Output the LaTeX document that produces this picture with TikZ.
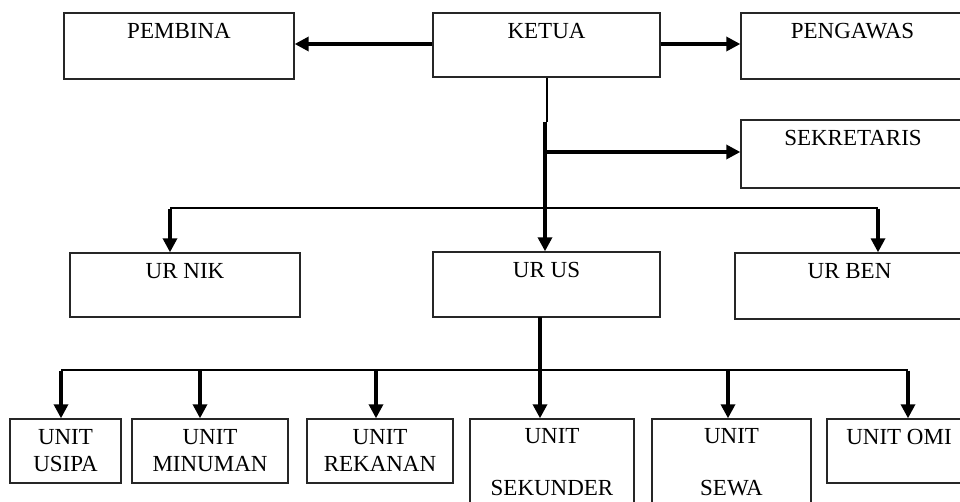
\documentclass[tikz,border=0pt]{standalone}
\usepackage{fontspec}
\setmainfont{Liberation Serif}
\usetikzlibrary{arrows.meta}
\begin{document}
\begin{tikzpicture}[x=1pt,y=-1pt,
  box/.style={draw=black!85,line width=1.4pt,inner sep=0pt,rectangle},
  lbl/.style={inner sep=0pt,anchor=north,align=center,font=\fontsize{23}{27}\selectfont},
  thinl/.style={draw=black,line width=1.3pt},
  thk/.style={draw=black,line width=3.3pt},
  arr/.style={thk,-{Triangle[length=14pt,width=14pt]}}]
\useasboundingbox (0,0) rectangle (960,502);
\clip (0,0) rectangle (960,502);
\fill[white] (0,0) rectangle (960,502);
% boxes
\node[box,minimum width=230pt,minimum height=66pt] (pembina) at (179,46) {};
\node[box,minimum width=227pt,minimum height=64pt] (ketua) at (546.5,45) {};
\node[box,minimum width=223pt,minimum height=66pt] (pengawas) at (852.5,46) {};
\node[box,minimum width=224pt,minimum height=68pt] (sekretaris) at (853,154) {};
\node[box,minimum width=230pt,minimum height=64pt] (urnik) at (185,285) {};
\node[box,minimum width=227pt,minimum height=65pt] (urus) at (546.5,284.5) {};
\node[box,minimum width=229pt,minimum height=66pt] (urben) at (849.5,286) {};
\node[box,minimum width=111pt,minimum height=64pt] (usipa) at (65.5,451) {};
\node[box,minimum width=156pt,minimum height=64pt] (minuman) at (210,451) {};
\node[box,minimum width=146pt,minimum height=64pt] (rekanan) at (380,451) {};
\node[box,minimum width=164pt,minimum height=101pt] (sekunder) at (552,469.5) {};
\node[box,minimum width=159pt,minimum height=101pt] (sewa) at (731.5,469.5) {};
\node[box,minimum width=144pt,minimum height=64pt] (omi) at (899,451) {};
% labels
\node[lbl] (tpembina) at ([yshift=-11pt]pembina.north) {PEMBINA};
\node[lbl] (tketua) at ([yshift=-11pt]ketua.north) {KETUA};
\node[lbl] (tpengawas) at ([yshift=-11pt]pengawas.north) {PENGAWAS};
\node[lbl] (tsekretaris) at ([yshift=-11pt]sekretaris.north) {SEKRETARIS};
\node[lbl] (turnik) at ([yshift=-11pt]urnik.north) {UR NIK};
\node[lbl] (turus) at ([yshift=-11pt]urus.north) {UR US};
\node[lbl] (turben) at ([yshift=-11pt]urben.north) {UR BEN};
\node[lbl] (tusipa) at ([yshift=-11pt]usipa.north) {UNIT\\USIPA};
\node[lbl] (tminuman) at ([yshift=-11pt]minuman.north) {UNIT\\MINUMAN};
\node[lbl] (trekanan) at ([yshift=-11pt]rekanan.north) {UNIT\\REKANAN};
\node[lbl] (tsekunder) at ([yshift=-10pt]sekunder.north) {UNIT\\[25pt]SEKUNDER};
\node[lbl] (tsewa) at ([yshift=-10pt]sewa.north) {UNIT\\[25pt]SEWA};
\node[lbl] (tomi) at ([yshift=-11pt]omi.north) {UNIT OMI};
% coordinates
\coordinate (ktop) at (547,77);
\coordinate (kh) at (546.5,44);
\coordinate (kmid) at (547,122);
\coordinate (kthk) at (545,122);
\coordinate (ksek) at (545,152);
\coordinate (hl) at (170,208);
\coordinate (hr) at (878,208);
\coordinate (us) at (540,317);
\coordinate (b1) at (61,370);
\coordinate (b2) at (200,370);
\coordinate (b3) at (376,370);
\coordinate (b5) at (728,370);
\coordinate (b6) at (908,370);
% connectors
\draw[arr] (ketua.west |- kh) -- (pembina.east |- kh);
\draw[arr] (ketua.east |- kh) -- (pengawas.west |- kh);
\draw[thinl] (ktop |- ketua.south) -- (kmid);
\draw[arr] (kthk) -- (kthk |- urus.north);
\draw[arr] (ksek) -- (sekretaris.west |- ksek);
\draw[thinl] (hl) -- (hr);
\draw[arr] ([yshift=-0.6pt]hl) -- (hl |- urnik.north);
\draw[arr] ([yshift=-0.6pt]hr) -- (hr |- urben.north);
\draw[thinl] (b1) -- (b6);
\draw[arr] (us) -- (us |- sekunder.north);
\draw[arr] ([yshift=-0.6pt]b1) -- (b1 |- usipa.north);
\draw[arr] (b2) -- (b2 |- minuman.north);
\draw[arr] (b3) -- (b3 |- rekanan.north);
\draw[arr] (b5) -- (b5 |- sewa.north);
\draw[arr] ([yshift=-0.6pt]b6) -- (b6 |- omi.north);
\end{tikzpicture}
\end{document}
